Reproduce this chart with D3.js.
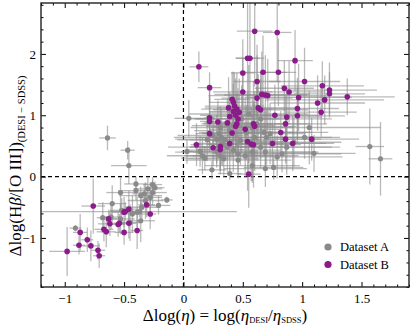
<!DOCTYPE html>
<html><head><meta charset="utf-8">
<script src="https://cdn.jsdelivr.net/npm/d3@7"></script>
<style>body{margin:0;background:#fff}svg text{font-family:"Liberation Serif","Times New Roman","DejaVu Serif",serif !important}</style>
</head><body>
<svg id="c" width="413" height="329"></svg>
<script>
// Dataset A (gray)
const aX = [0.045,0.03,0.14,0.16,0.18,0.24,0.20,0.25,0.28,0.30,0.32,0.35,0.33,0.28,0.31,0.34,0.39,0.37,0.42,0.46,0.46,0.48,0.53,0.58,0.62,0.60,0.68,0.70,0.73,0.65,0.69,0.58,0.69,0.76,0.79,0.83,0.87,0.93,1.02,1.06,1.10,1.57,1.66,0.52,0.58,0.39,0.42,0.49,0.65,0.55,0.31,
  -0.64,-0.47,-0.46,-0.91,-0.53,-0.40,-0.26,-0.26,-0.28,-0.32,-0.36,-0.14,-0.21,-0.35,-0.39,-0.43,-0.52,-0.60,-0.68,-0.61,-0.53,-0.45,-0.36,-0.40,-0.30,-0.24,-0.33,-0.37];
const aY = [0.95,0.41,0.41,0.34,0.30,0.11,0.60,0.67,0.61,0.70,0.64,0.60,0.53,0.40,0.34,0.29,0.05,0.48,0.43,0.37,0.27,0.59,0.72,0.80,0.86,0.64,0.72,0.64,0.70,0.48,0.40,0.18,0.13,0.15,0.32,0.37,0.48,0.56,0.64,0.80,0.38,0.49,0.29,0.34,0.40,0.75,0.83,0.94,0.94,1.02,0.80,
  0.63,0.43,0.18,-0.84,-0.26,-0.12,-0.13,-0.26,-0.34,-0.39,-0.31,-0.38,-0.47,-0.50,-0.58,-0.61,-0.55,-0.44,-0.67,-0.66,-0.69,-0.75,-0.72,-0.23,-0.20,-0.18,-0.28,-0.57];
const aXerr = [0.12,0.05,0.10,0.15,0.20,0.12,0.25,0.30,0.35,0.20,0.40,0.30,0.25,0.35,0.45,0.30,0.10,0.50,0.40,0.35,0.45,0.30,0.40,0.35,0.45,0.50,0.40,0.55,0.30,0.60,0.45,0.40,0.35,0.25,0.55,0.50,0.45,0.40,0.30,0.60,0.35,0.12,0.10,0.45,0.50,0.30,0.35,0.40,0.60,0.50,0.25,
  0.07,0.06,0.15,0.05,0.12,0.10,0.08,0.12,0.10,0.15,0.18,0.05,0.10,0.14,0.12,0.10,0.10,0.12,0.05,0.08,0.12,0.10,0.12,0.15,0.12,0.08,0.10,0.82];
const aYerr = [0.30,0.20,0.25,0.30,0.20,0.15,0.35,0.30,0.40,0.25,0.45,0.30,0.35,0.25,0.30,0.30,0.10,0.40,0.35,0.30,0.30,0.40,0.45,0.50,0.60,0.55,0.40,0.45,0.50,0.35,0.30,0.25,0.30,0.20,0.35,0.30,0.45,0.40,0.35,0.60,0.30,0.62,0.60,0.35,0.50,0.45,0.40,0.55,0.65,0.80,0.35,
  0.20,0.15,0.30,0.05,0.25,0.12,0.12,0.20,0.25,0.30,0.15,0.05,0.15,0.20,0.25,0.30,0.20,0.30,0.25,0.20,0.25,0.30,0.35,0.15,0.20,0.10,0.15,0.10];
// Dataset B (purple)
const bX = [0.13,0.22,0.60,0.79,0.54,0.56,0.94,0.50,0.67,0.80,0.62,1.02,1.17,1.23,1.23,1.38,0.85,0.89,0.50,0.66,0.69,0.71,0.62,0.97,1.19,1.13,1.16,0.96,0.96,0.87,0.86,0.77,0.41,0.42,0.43,0.38,0.45,0.47,0.42,0.44,0.46,0.39,0.22,0.22,0.29,0.37,0.45,0.44,0.63,0.65,0.59,0.60,0.52,0.22,0.41,0.82,0.86,0.92,1.08,0.75,0.54,0.57,0.59,0.39,0.31,0.31,0.25,0.11,0.55,
  -0.98,-0.88,-0.87,-0.81,-0.78,-0.72,-0.71,-0.76,-0.67,-0.65,-0.63,-0.62,-0.55,-0.54,-0.50,-0.50,-0.49,-0.46,-0.46,-0.39,-0.31,-0.28];
const bY = [1.79,1.45,2.37,2.35,1.93,1.93,1.89,1.69,1.70,1.70,1.55,1.55,1.48,1.41,1.35,1.30,1.44,1.38,1.38,1.34,1.33,1.32,1.28,1.29,1.25,1.20,1.05,1.11,0.99,0.97,0.86,1.00,1.26,1.21,1.15,1.12,1.10,1.05,1.06,1.00,0.94,0.98,0.96,0.90,0.89,0.875,0.86,0.82,1.12,1.09,0.86,0.82,0.77,0.70,0.71,0.72,0.61,0.54,0.61,0.54,0.57,0.53,0.52,0.54,0.49,0.44,0.47,0.52,0.04,
  -1.22,-1.12,-0.91,-1.03,-1.13,-1.20,-1.29,-0.48,-0.86,-0.90,-0.69,-0.77,-0.78,-0.76,-0.91,-0.58,-0.57,-0.53,-0.76,-0.88,-0.46,-0.61];
const bXerr = [0.08,0.10,0.15,0.12,0.10,0.12,0.15,0.10,0.20,0.15,0.20,0.30,0.35,0.40,0.30,0.40,0.25,0.30,0.25,0.40,0.35,0.50,0.30,0.45,0.50,0.40,0.30,0.35,0.40,0.30,0.35,0.40,0.15,0.20,0.25,0.20,0.30,0.25,0.20,0.30,0.35,0.20,0.05,0.08,0.10,0.20,0.30,0.25,0.35,0.40,0.30,0.35,0.30,0.06,0.25,0.40,0.30,0.35,0.40,0.45,0.30,0.35,0.40,0.30,0.25,0.20,0.15,0.05,0.10,
  0.15,0.05,0.06,0.05,0.07,0.06,0.05,0.10,0.08,0.08,0.07,0.10,0.06,0.05,0.08,0.10,0.12,0.08,0.06,0.05,0.07,0.05];
const bYerr = [0.25,0.25,0.90,0.80,0.95,1.00,0.50,0.55,0.60,0.55,0.60,0.55,0.40,0.45,0.35,0.30,0.45,0.50,0.55,0.70,0.65,0.60,0.70,0.55,0.40,0.45,0.40,0.50,0.45,0.40,0.45,0.50,0.45,0.50,0.55,0.50,0.60,0.55,0.45,0.60,0.50,0.40,0.45,0.40,0.35,0.40,0.50,0.45,0.55,0.60,0.70,0.55,0.50,0.30,0.40,0.35,0.40,0.45,0.35,0.40,0.80,0.60,0.70,0.45,0.40,0.35,0.30,0.35,0.55,
  0.40,0.15,0.30,0.20,0.25,0.15,0.20,0.45,0.20,0.25,0.15,0.20,0.20,0.15,0.20,0.25,0.15,0.30,0.25,0.30,0.20,0.25];
const xTicks = [-1,-0.5,0,0.5,1,1.5];
const yTicks = [-1,0,1,2];
const seriesNames = ["Dataset A","Dataset B"];
const colors = ["#8a8a8a","#8b1a8b"];

const FONT='"Liberation Serif","Times New Roman","DejaVu Serif",serif';
const L=41,R=409,T=3,B=287;
const x=d3.scaleLinear().domain([-1.2,1.9]).range([L,R]);
const y=d3.scaleLinear().domain([-1.8,2.83]).range([B,T]);
const svg=d3.select("#c");
const plot=svg.append("g");
const defs=svg.append("defs");
defs.append("clipPath").attr("id","clip").append("rect").attr("x",L).attr("y",T).attr("width",R-L).attr("height",B-T);
const g=plot.append("g").attr("clip-path","url(#clip)");

g.append("line").attr("x1",x(0)).attr("x2",x(0)).attr("y1",T).attr("y2",B).attr("stroke","#000").attr("stroke-width",1.2).attr("stroke-dasharray","4,3");
g.append("line").attr("x1",L).attr("x2",R).attr("y1",y(0)).attr("y2",y(0)).attr("stroke","#000").attr("stroke-width",1.2).attr("stroke-dasharray","4,3");

function build(X,Y,XE,YE){return X.map((v,i)=>({x:v,y:Y[i],xe:XE[i],ye:YE[i]}));}
const A=build(aX,aY,aXerr,aYerr), Bd=build(bX,bY,bXerr,bYerr);
function errs(data){
  const e=g.append("g").attr("stroke","#8c8c8c").attr("stroke-opacity",0.6).attr("stroke-width",1.3);
  e.selectAll("line.h").data(data).join("line").attr("class","h").attr("x1",d=>x(d.x-d.xe)).attr("x2",d=>x(d.x+d.xe)).attr("y1",d=>y(d.y)).attr("y2",d=>y(d.y));
  e.selectAll("line.v").data(data).join("line").attr("class","v").attr("x1",d=>x(d.x)).attr("x2",d=>x(d.x)).attr("y1",d=>y(d.y-d.ye)).attr("y2",d=>y(d.y+d.ye));
}
errs(A);errs(Bd);
g.append("g").selectAll("circle").data(A).join("circle").attr("cx",d=>x(d.x)).attr("cy",d=>y(d.y)).attr("r",2.6).attr("fill",colors[0]);
g.append("g").selectAll("circle").data(Bd).join("circle").attr("cx",d=>x(d.x)).attr("cy",d=>y(d.y)).attr("r",2.8).attr("fill",colors[1]);

const xMinor=d3.range(-12,20).map(v=>v/10).filter(v=>!xTicks.some(t=>Math.abs(t-v)<1e-6));
const yMinor=d3.range(-9,15).map(v=>v/5).filter(v=>!yTicks.some(t=>Math.abs(t-v)<1e-6));
function ax(gen,tr,vals,size,labels){
  const a=svg.append("g").attr("transform",tr).call(gen.tickValues(vals).tickSize(-size).tickFormat(labels?d3.format(""):""));
  a.attr("font-family",FONT);
  a.select(".domain").remove();
  a.selectAll("line").attr("stroke","#000").attr("stroke-width",1);
  return a;
}
const xb=ax(d3.axisBottom(x),`translate(0,${B})`,xTicks,5,true);
xb.selectAll("text").attr("font-size",13).attr("fill","#000").attr("y",16).attr("dy",0);
ax(d3.axisBottom(x),`translate(0,${B})`,xMinor,2.5,false);
ax(d3.axisTop(x),`translate(0,${T})`,xTicks,5,false);
ax(d3.axisTop(x),`translate(0,${T})`,xMinor,2.5,false);
const yl=ax(d3.axisLeft(y),`translate(${L},0)`,yTicks,5,true);
yl.selectAll("text").attr("font-size",13).attr("fill","#000").attr("x",-5);
ax(d3.axisLeft(y),`translate(${L},0)`,yMinor,2.5,false);
ax(d3.axisRight(y),`translate(${R},0)`,yTicks,5,false);
ax(d3.axisRight(y),`translate(${R},0)`,yMinor,2.5,false);
svg.append("rect").attr("x",L).attr("y",T).attr("width",R-L).attr("height",B-T).attr("fill","none").attr("stroke","#222").attr("stroke-width",1.4);

seriesNames.forEach((n,i)=>{
  const ly=247+i*17.5;
  svg.append("circle").attr("cx",328).attr("cy",ly).attr("r",3.6).attr("fill",colors[i]);
  svg.append("text").attr("x",340).attr("y",ly+4).attr("font-family",FONT).attr("font-size",12.5).text(n);
});

const xt=svg.append("text").attr("x",225).attr("y",321).attr("text-anchor","middle").attr("font-family",FONT).attr("font-size",17);
xt.append("tspan").text("Δlog(");
xt.append("tspan").attr("font-style","italic").text("η");
xt.append("tspan").text(") = log(");
xt.append("tspan").attr("font-style","italic").text("η");
xt.append("tspan").attr("font-size",8.5).attr("dy",2).text("DESI");
xt.append("tspan").attr("dy",-2).text("/");
xt.append("tspan").attr("font-style","italic").text("η");
xt.append("tspan").attr("font-size",8.5).attr("dy",2).text("SDSS");
xt.append("tspan").attr("dy",-2).text(")");

const yt=svg.append("text").attr("transform","translate(21,166) rotate(-90)").attr("text-anchor","middle").attr("font-family",FONT).attr("font-size",17);
yt.append("tspan").text("Δlog(H");
yt.append("tspan").attr("font-style","italic").text("β");
yt.append("tspan").text("/[O III])");
yt.append("tspan").attr("font-size",10.5).attr("dy",4).text("(DESI − SDSS)");
</script>
</body></html>
